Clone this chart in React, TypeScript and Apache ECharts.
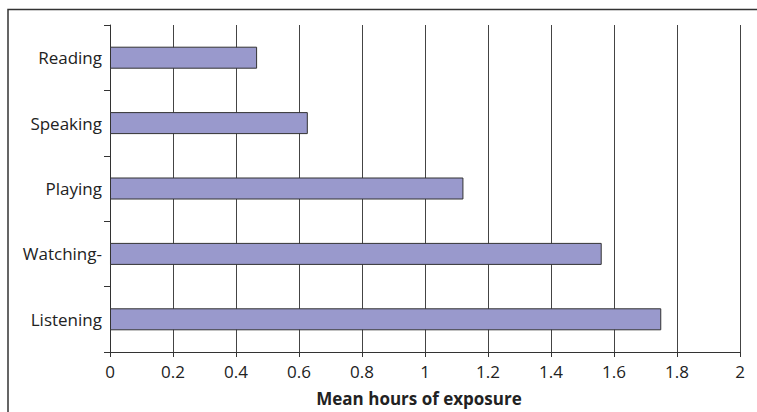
import React, { useEffect, useRef } from "react";
import * as echarts from "echarts";

const categories = ["Reading", "Speaking", "Playing", "Watching-", "Listening"];
const meanHours = [0.467, 0.628, 1.122, 1.561, 1.75];
const axisTitle = "Mean hours of exposure";

export default function App() {
  const ref = useRef<HTMLDivElement>(null);
  useEffect(() => {
    if (!ref.current) return;
    const chart = echarts.init(ref.current, undefined, { renderer: "svg" });
    const font = "'Open Sans', 'Noto Sans', sans-serif";
    chart.setOption({
      animation: false,
      backgroundColor: "#ffffff",
      grid: { left: 110, right: 17, top: 25, bottom: 59 },
      graphic: [
        {
          type: "rect",
          shape: { x: 8, y: 9.5, width: 900, height: 600 },
          style: { fill: "none", stroke: "#333333", lineWidth: 1.5 },
          silent: true,
          z: 0,
        },
      ],
      xAxis: {
        type: "value",
        min: 0,
        max: 2,
        interval: 0.2,
        name: axisTitle,
        nameLocation: "middle",
        nameGap: 38,
        nameTextStyle: {
          fontFamily: font,
          fontSize: 17,
          fontWeight: "bold",
          color: "#222222",
          padding: [0, 12, 0, 0],
        },
        axisLine: { show: true, lineStyle: { color: "#333333", width: 1 } },
        axisTick: { show: true, length: 5, lineStyle: { color: "#333333" } },
        axisLabel: {
          fontFamily: font,
          fontSize: 17,
          color: "#222222",
          margin: 11,
          formatter: (v: number) => String(Math.round(v * 10) / 10),
        },
        splitLine: { show: true, lineStyle: { color: "#444444", width: 1 } },
      },
      yAxis: {
        type: "category",
        data: categories,
        inverse: true,
        axisLine: { show: true, lineStyle: { color: "#333333", width: 1 } },
        axisTick: { show: true, length: 6, inside: false, lineStyle: { color: "#333333" } },
        axisLabel: { fontFamily: font, fontSize: 17, color: "#222222", margin: 8 },
        splitLine: { show: false },
      },
      series: [
        {
          type: "bar",
          data: meanHours,
          barWidth: 22,
          itemStyle: { color: "#9999cc", borderColor: "#333333", borderWidth: 1 },
        },
      ],
    });
    return () => chart.dispose();
  }, []);
  return (
    <div
      ref={ref}
      style={{ position: "fixed", left: 0, top: 0, width: 757, height: 412 }}
    />
  );
}
